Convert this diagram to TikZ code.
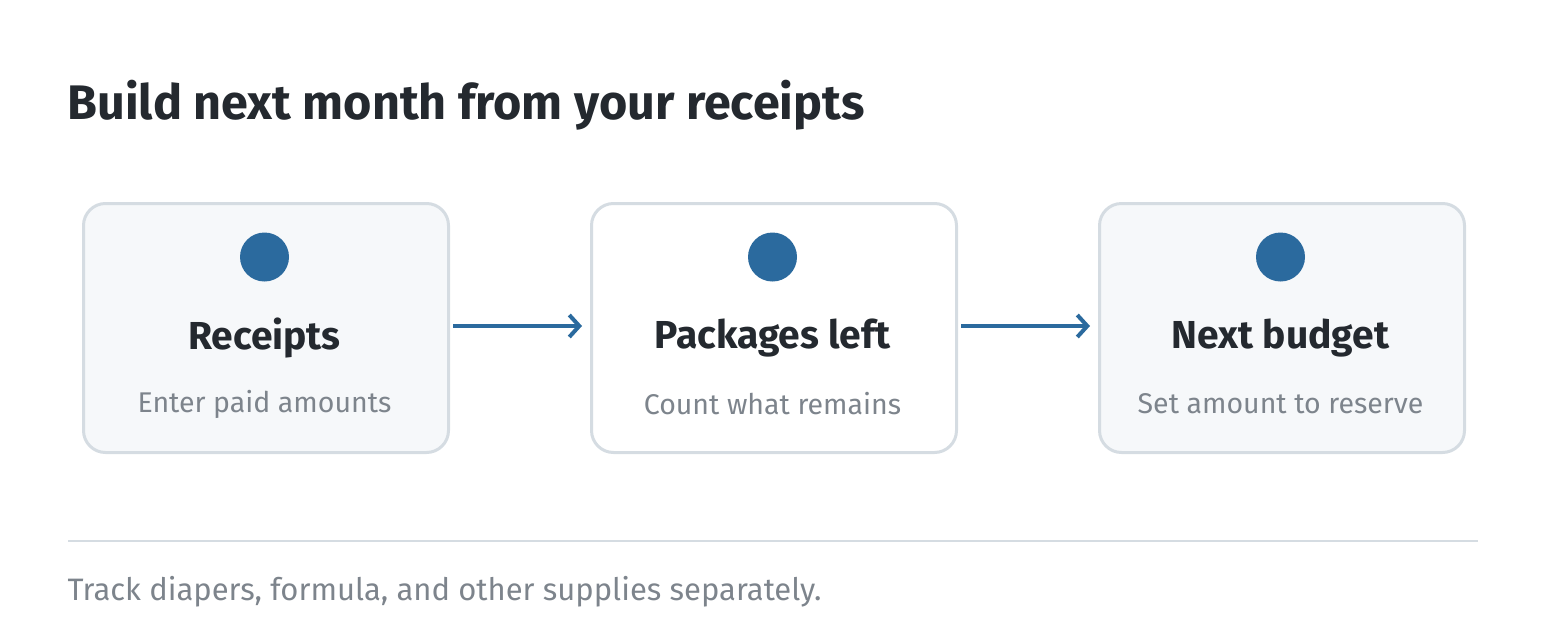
\documentclass[tikz,border=0pt]{standalone}
\usepackage{fontspec}
\setmainfont{Fira Sans}
\usetikzlibrary{arrows.meta}
\definecolor{ink}{HTML}{24292F}
\definecolor{muted}{HTML}{7D848C}
\definecolor{edge}{HTML}{D5DCE2}
\definecolor{fillg}{HTML}{F6F8FA}
\definecolor{blue}{HTML}{2B6A9E}
\begin{document}
\begin{tikzpicture}[x=1pt,y=-1pt,
  box/.style={draw=edge,line width=3pt,rounded corners=22pt,minimum width=365pt,minimum height=249pt,anchor=north west},
  dot/.style={circle,fill=blue,minimum size=49pt,inner sep=0},
  lbl/.style={font=\fontsize{39}{44}\selectfont\bfseries,text=ink},
  sub/.style={font=\fontsize{28.5}{32}\selectfont,text=muted},
  arr/.style={draw=blue,line width=4.5pt,-{Straight Barb[length=10pt,width=22pt,line width=4pt]}}]
\useasboundingbox (0,0) rectangle (1546,640);
\node[anchor=west,font=\fontsize{48.5}{54}\selectfont\bfseries,text=ink] (title) at (64,105) {Build next month from your receipts};
\node[box,fill=fillg] (b1) at (82,202) {};
\node[box,fill=white] (b2) at (590,202) {};
\node[box,fill=fillg] (b3) at (1098,202) {};
\foreach \i/\x/\t/\s in {1/264.5/Receipts/Enter paid amounts,2/772.5/Packages left/Count what remains,3/1280.5/Next budget/Set amount to reserve}{
  \node[dot] (d\i) at (\x,257) {};
  \node[lbl] (l\i) at (\x,338) {\t};
  \node[sub] (s\i) at (\x,404) {\s};
}
\coordinate (a1s) at (453,326); \coordinate (a1e) at (582,326);
\coordinate (a2s) at (961,326); \coordinate (a2e) at (1090,326);
\draw[arr] (a1s) -- (a1e);
\draw[arr] (a2s) -- (a2e);
\coordinate (r1) at (68,541); \coordinate (r2) at (1478,541);
\draw[edge,line width=2pt] (r1) -- (r2);
\node[anchor=west,font=\fontsize{31}{36}\selectfont,text=muted] (foot) at (64,592) {Track diapers, formula, and other supplies separately.};
\end{tikzpicture}
\end{document}
